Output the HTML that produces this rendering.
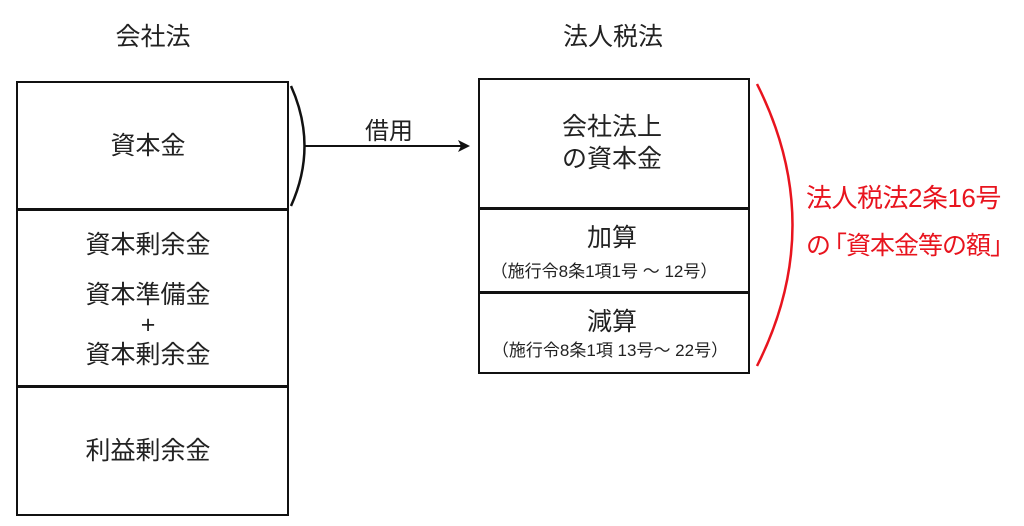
<!DOCTYPE html>
<html><head><meta charset="utf-8"><style>
body{margin:0;width:1024px;height:526px;background:#fff;position:relative;overflow:hidden;font-family:"Liberation Sans","Noto Sans CJK JP",sans-serif;color:#222}
.t{position:absolute;white-space:nowrap;text-align:center;transform:translateX(-50%)}
.b{position:absolute;border:2.5px solid #111;box-sizing:border-box}
.h{position:absolute;height:2.5px;background:#111}
</style></head><body>
<div class="t" style="left:153px;top:17px;font-size:25px">会社法</div>
<div class="t" style="left:613px;top:17px;font-size:25px">法人税法</div>
<div class="b" style="left:16px;top:81px;width:273px;height:435px"></div>
<div class="h" style="left:16px;top:208px;width:273px"></div>
<div class="h" style="left:16px;top:385px;width:273px"></div>
<div class="t" style="left:148px;top:126px;font-size:25px">資本金</div>
<div class="t" style="left:148px;top:225px;font-size:25px">資本剰余金</div>
<div class="t" style="left:148px;top:280px;font-size:25px;line-height:30px">資本準備金<br>+<br>資本剰余金</div>
<div class="t" style="left:148px;top:431px;font-size:25px">利益剰余金</div>
<div class="b" style="left:478px;top:78px;width:272px;height:296px"></div>
<div class="h" style="left:478px;top:207px;width:272px"></div>
<div class="h" style="left:478px;top:291px;width:272px"></div>
<div class="t" style="left:612px;top:111px;font-size:25px;line-height:32px">会社法上<br>の資本金</div>
<div class="t" style="left:612px;top:218px;font-size:25px">加算</div>
<div class="t" style="left:604px;top:257px;font-size:17px">（施行令8条1項1号 ～ 12号）</div>
<div class="t" style="left:612px;top:302px;font-size:25px">減算</div>
<div class="t" style="left:610px;top:336px;font-size:17px">（施行令8条1項 13号～ 22号）</div>
<div class="t" style="left:389px;top:111px;font-size:24px">借用</div>
<div style="position:absolute;left:806px;top:178px;font-size:26px;color:#e8141e;white-space:nowrap;letter-spacing:-0.5px">法人税法2条16号</div>
<div style="position:absolute;left:806px;top:226px;font-size:25px;color:#e8141e;white-space:nowrap;letter-spacing:-1px">の<span style="margin-left:-8px">「</span>資本金等の額<span style="margin-right:-8px">」</span></div>
<svg style="position:absolute;left:0;top:0" width="1024" height="526">
<path d="M291 86 Q318 146 291 206" fill="none" stroke="#111" stroke-width="2.5"/>
<line x1="305" y1="146" x2="462" y2="146" stroke="#111" stroke-width="2"/>
<path d="M470 146 L458 140 L461 146 L458 152 Z" fill="#111"/>
<path d="M757 84 Q828 225 757 366" fill="none" stroke="#e8141e" stroke-width="2.5"/>
</svg>
</body></html>
